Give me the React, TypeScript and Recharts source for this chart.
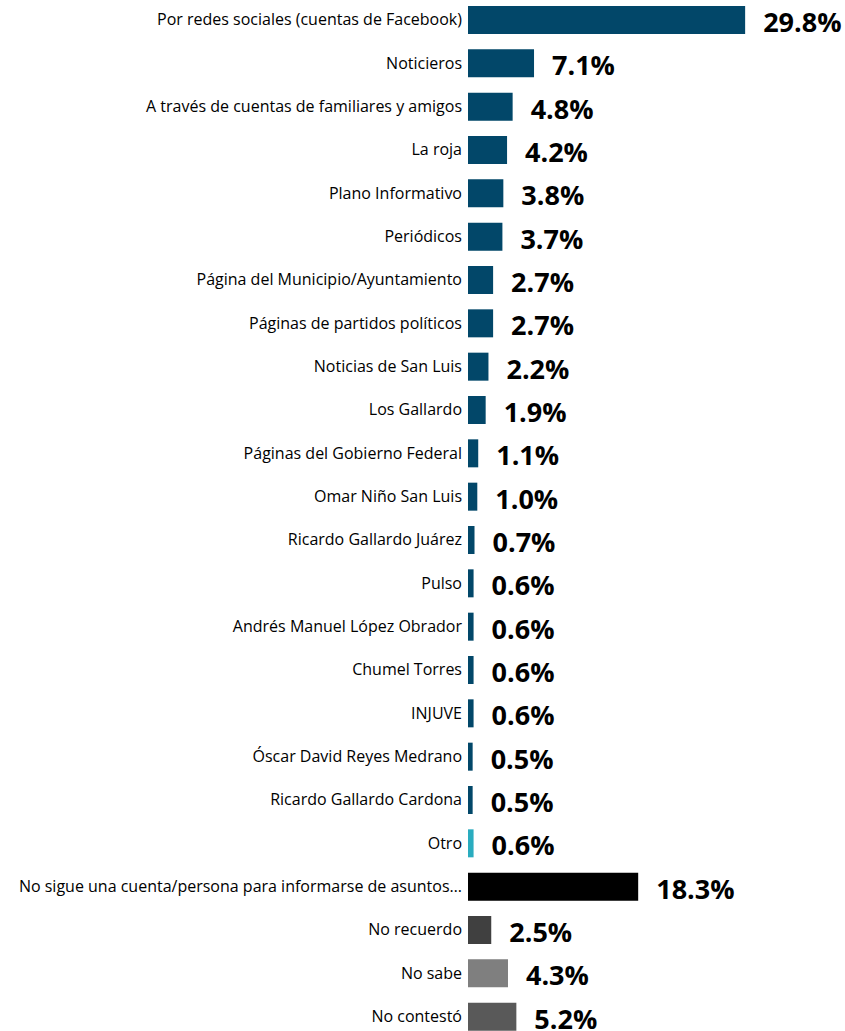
import { BarChart, Bar, XAxis, YAxis, Cell, LabelList } from "recharts";

const categories = [
  "Por redes sociales (cuentas de Facebook)",
  "Noticieros",
  "A través de cuentas de familiares y amigos",
  "La roja",
  "Plano Informativo",
  "Periódicos",
  "Página del Municipio/Ayuntamiento",
  "Páginas de partidos políticos",
  "Noticias de San Luis",
  "Los Gallardo",
  "Páginas del Gobierno Federal",
  "Omar Niño San Luis",
  "Ricardo Gallardo Juárez",
  "Pulso",
  "Andrés Manuel López Obrador",
  "Chumel Torres",
  "INJUVE",
  "Óscar David Reyes Medrano",
  "Ricardo Gallardo Cardona",
  "Otro",
  "No sigue una cuenta/persona para informarse de asuntos…",
  "No recuerdo",
  "No sabe",
  "No contestó",
];

const values = [
  29.8, 7.1, 4.8, 4.2, 3.8, 3.7, 2.7, 2.7, 2.2, 1.9, 1.1, 1.0, 0.7, 0.6, 0.6, 0.6,
  0.6, 0.5, 0.5, 0.6, 18.3, 2.5, 4.3, 5.2,
];

const BLUE = "#024769";
const barColors = [
  ...Array(19).fill(BLUE),
  "#2aacbf",
  "#000000",
  "#404040",
  "#7f7f7f",
  "#595959",
];

const data = categories.map((name, i) => ({ name, value: values[i] }));

const ValueLabel = (props: any) => {
  const { x, y, width, height, value } = props;
  return (
    <text
      x={x + width + 18}
      y={y + height / 2 + 1.5}
      dominantBaseline="central"
      fontFamily="Open Sans"
      fontWeight="bold"
      fontSize={27}
      fill="#000"
    >
      {`${value.toFixed(1)}%`}
    </text>
  );
};

export default function App() {
  return (
    <div style={{ position: "absolute", left: 0, top: -2, background: "#fff" }}>
      <BarChart
        width={845}
        height={1040}
        data={data}
        layout="vertical"
        margin={{ top: 0, right: 5, bottom: 0, left: 0 }}
      >
        <XAxis type="number" domain={[0, 40]} hide />
        <YAxis
          type="category"
          dataKey="name"
          width={468}
          axisLine={false}
          tickLine={false}
          tickSize={0}
          tickMargin={6}
          interval={0}
          tick={{ fill: "#000", fontSize: 16, fontFamily: "Open Sans" }}
        />
        <Bar dataKey="value" barSize={28} isAnimationActive={false}>
          {data.map((_, i) => (
            <Cell key={i} fill={barColors[i]} />
          ))}
          <LabelList dataKey="value" content={ValueLabel} />
        </Bar>
      </BarChart>
    </div>
  );
}
